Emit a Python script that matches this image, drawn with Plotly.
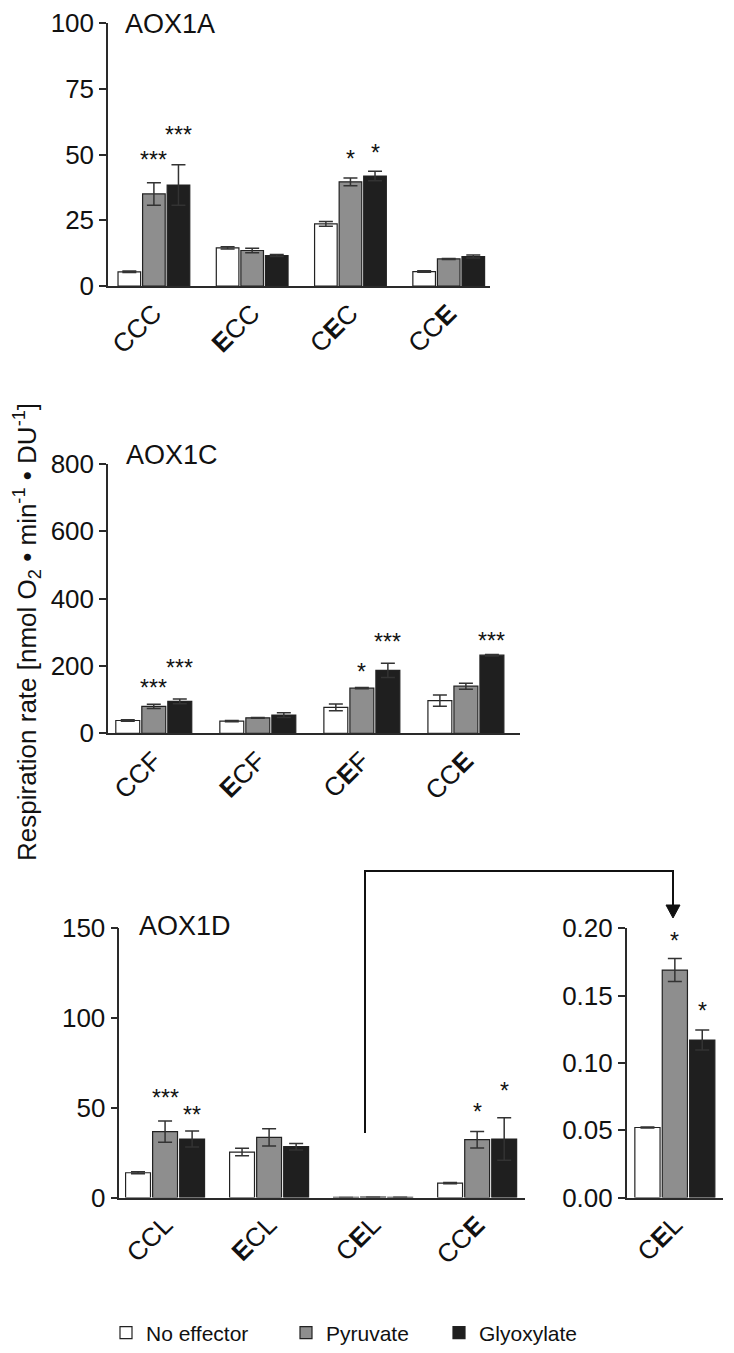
import plotly.graph_objects as go

W, H = 734, 1353
OFF = 8  # page margin of the browser: reference pixel p sits at figure pixel p - OFF
FONT = "Arial, Liberation Sans, sans-serif"

# ---------------- data ----------------
series_names = ["No effector", "Pyruvate", "Glyoxylate"]
legend_widths = [135, 108, 100]

cat_a = ["CCC", "<b>E</b>CC", "C<b>E</b>C", "CC<b>E</b>"]
a_none = [5.4, 14.5, 23.6, 5.5]
a_none_err = [0.3, 0.4, 0.9, 0.3]
a_pyr = [35.0, 13.5, 39.6, 10.3]
a_pyr_err = [4.3, 0.9, 1.5, 0.2]
a_gly = [38.4, 11.6, 41.8, 11.2]
a_gly_err = [7.7, 0.4, 1.8, 0.6]
a_stars = [(0, 1, "***", 50.0), (0, 2, "***", 59.4), (2, 1, "*", 50.2), (2, 2, "*", 52.4)]

cat_c = ["CCF", "<b>E</b>CF", "C<b>E</b>F", "CC<b>E</b>"]
c_none = [38, 36, 77, 97]
c_none_err = [2, 2, 10, 17]
c_pyr = [80, 46, 134, 140]
c_pyr_err = [6, 1, 2, 9]
c_gly = [95, 54, 187, 232]
c_gly_err = [7, 7, 21, 2]
c_stars = [(0, 1, "***", 150), (0, 2, "***", 208), (2, 1, "*", 197), (2, 2, "***", 286), (3, 2, "***", 290)]

cat_d = ["CCL", "<b>E</b>CL", "C<b>E</b>L", "CC<b>E</b>"]
d_none = [13.8, 25.3, 0.052, 8.0]
d_none_err = [0.5, 2.1, 0.0, 0.3]
d_pyr = [36.7, 33.5, 0.169, 32.2]
d_pyr_err = [5.9, 4.8, 0.008, 4.6]
d_gly = [32.6, 28.3, 0.117, 32.6]
d_gly_err = [4.5, 1.8, 0.007, 11.9]
d_stars = [(0, 1, "***", 58.0), (0, 2, "**", 48.6), (3, 1, "*", 50.2), (3, 2, "*", 61.9)]

cat_e = ["C<b>E</b>L"]
e_none = [0.052]
e_none_err = [0.0004]
e_pyr = [0.169]
e_pyr_err = [0.0085]
e_gly = [0.117]
e_gly_err = [0.0075]
e_stars = [(0, 1, "*", 0.194), (0, 2, "*", 0.1425)]

# ---------------- styling ----------------
fills = ["#ffffff", "#8e8e8e", "#1f1f1f"]
AX = "#2a2a2a"


def px_x(p):
    return (p - OFF) / W


def px_y(p):
    return 1 - (p - OFF) / H


panels = [
    dict(cats=cat_a, vals=[a_none, a_pyr, a_gly], errs=[a_none_err, a_pyr_err, a_gly_err], stars=a_stars,
         xd=(108, 490), yd=(23, 286), yr=[0, 100], xr=[-0.467, 3.42], tv=[0, 25, 50, 75, 100], fmt="",
         bargap=0.25, title="AOX1A", tpos=(123, 24)),
    dict(cats=cat_c, vals=[c_none, c_pyr, c_gly], errs=[c_none_err, c_pyr_err, c_gly_err], stars=c_stars,
         xd=(108, 520), yd=(464, 733.3), yr=[0, 800], xr=[-0.44, 3.52], tv=[0, 200, 400, 600, 800], fmt="",
         bargap=0.25, title="AOX1C", tpos=(124, 455)),
    dict(cats=cat_d, vals=[d_none, d_pyr, d_gly], errs=[d_none_err, d_pyr_err, d_gly_err], stars=d_stars,
         xd=(119.3, 525), yd=(928.3, 1197.5), yr=[0, 150], xr=[-0.44, 3.46], tv=[0, 50, 100, 150], fmt="",
         bargap=0.22, title="AOX1D", tpos=(137, 926)),
    dict(cats=cat_e, vals=[e_none, e_pyr, e_gly], errs=[e_none_err, e_pyr_err, e_gly_err], stars=e_stars,
         xd=(626.7, 723), yd=(928.3, 1197.5), yr=[0, 0.2], xr=[-0.457, 0.457], tv=[0, 0.05, 0.10, 0.15, 0.20], fmt=".2f",
         bargap=0.22, title=None, tpos=None),
]

fig = go.Figure()
annotations = []
layout = {}

for pi, p in enumerate(panels):
    n = "" if pi == 0 else str(pi + 1)
    xref, yref = "x" + n, "y" + n
    xs = list(range(len(p["cats"])))
    slot = (1 - p["bargap"]) / 3
    for si in range(3):
        fig.add_trace(go.Bar(
            x=xs, y=p["vals"][si], name=series_names[si],
            xaxis=xref, yaxis=yref,
            offsetgroup=str(si), legendgroup=series_names[si], showlegend=(pi == 0),
            legendwidth=legend_widths[si],
            marker=dict(color=fills[si], line=dict(color="#222222", width=1.2)),
            error_y=dict(type="data", array=p["errs"][si], visible=True,
                         color="#333333", thickness=1.5, width=7),
            width=slot * 0.92, offset=(si - 1.5) * slot + slot * 0.04,
        ))
    layout["xaxis" + n] = dict(
        domain=[px_x(p["xd"][0]), px_x(p["xd"][1])], anchor=yref, automargin=False,
        range=p["xr"], tickmode="array", tickvals=xs, ticktext=p["cats"],
        tickangle=-45, ticks="", showline=True, linecolor=AX, linewidth=1.5,
        showgrid=False, zeroline=False, tickfont=dict(family=FONT, size=26, color="#111"),
        ticklabeloverflow="allow", fixedrange=True,
    )
    layout["yaxis" + n] = dict(
        domain=[px_y(p["yd"][1]), px_y(p["yd"][0])], anchor=xref, automargin=False,
        range=p["yr"], tickmode="array", tickvals=p["tv"], tickformat=p["fmt"],
        ticks="outside", ticklen=7, tickwidth=1.5, tickcolor=AX,
        showline=True, linecolor=AX, linewidth=1.5, showgrid=False, zeroline=False,
        tickfont=dict(family=FONT, size=26, color="#111"),
        ticklabeloverflow="allow", fixedrange=True,
    )
    for gi, si, txt, yv in p["stars"]:
        annotations.append(dict(
            x=gi + (si - 1) * slot, y=yv, xref=xref, yref=yref, text=txt, showarrow=False,
            xanchor="center", yanchor="middle", yshift=-5,
            font=dict(family=FONT, size=23, color="#111"),
        ))
    if p["title"]:
        annotations.append(dict(
            x=px_x(p["tpos"][0]), y=px_y(p["tpos"][1]), xref="paper", yref="paper",
            text=p["title"], showarrow=False, xanchor="left", yanchor="middle",
            font=dict(family=FONT, size=27, color="#111"),
        ))

# y-axis title
annotations.append(dict(
    x=px_x(27), y=px_y(632), xref="paper", yref="paper", textangle=-90,
    text="Respiration rate [nmol O<sub>2</sub> \u2022 min<sup>-1</sup> \u2022 DU<sup>-1</sup>]",
    showarrow=False, xanchor="center", yanchor="middle",
    font=dict(family=FONT, size=26, color="#111"),
))

# connector arrow from CEL group to the inset
x1, y1, y2, x2, y3 = 365, 1133, 871, 673, 905
shapes = [
    dict(type="path", xref="paper", yref="paper",
         path=f"M {px_x(x1)},{px_y(y1)} L {px_x(x1)},{px_y(y2)} L {px_x(x2)},{px_y(y2)} L {px_x(x2)},{px_y(y3)}",
         line=dict(color="#111", width=2)),
    dict(type="path", xref="paper", yref="paper",
         path=f"M {px_x(x2-7)},{px_y(y3)} L {px_x(x2+7)},{px_y(y3)} L {px_x(x2)},{px_y(y3+13)} Z",
         fillcolor="#111", line=dict(color="#111", width=1)),
]

fig.update_layout(
    width=W, height=H, margin=dict(l=0, r=0, t=0, b=0, autoexpand=False),
    paper_bgcolor="white", plot_bgcolor="white",
    barmode="overlay",
    annotations=annotations, shapes=shapes,
    legend=dict(orientation="h", x=px_x(106), y=px_y(1333), xanchor="left", yanchor="middle",
                font=dict(family=FONT, size=21, color="#111"), traceorder="normal",
                itemclick=False, itemdoubleclick=False),
    **layout,
)

fig.write_html("out.html")
